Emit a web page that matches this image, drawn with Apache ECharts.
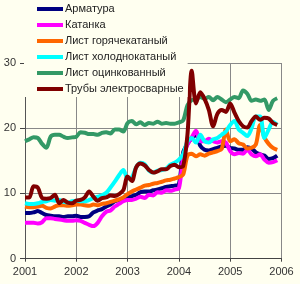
<!DOCTYPE html>
<html>
<head>
<meta charset="utf-8">
<script src="https://cdn.jsdelivr.net/npm/echarts@6/dist/echarts.min.js"></script>
<style>
html,body{margin:0;padding:0;background:#FFFFF0;}
#c{width:300px;height:284px;}
</style>
</head>
<body>
<div id="c"></div>
<script>
const startYear = 2001;
const monthsPerYear = 12;
const yearTicks = [2001, 2002, 2003, 2004, 2005, 2006];
const seriesNames = ['Арматура', 'Катанка', 'Лист горячекатаный', 'Лист холоднокатаный', 'Лист оцинкованный', 'Трубы электросварные'];
const seriesColors = ['#000080', '#FF00FF', '#FF6600', '#00FFFF', '#339966', '#800000'];

const armatura = [
  7.0, 7.0, 7.1, 7.3, 7.0, 6.7, 6.6, 6.5, 6.5, 6.4, 6.5, 6.5,
  6.6, 6.4, 6.4, 6.5, 7.1, 7.4, 7.6, 8.0, 8.3, 8.8, 9.0, 9.3,
  9.5, 9.6, 9.8, 10.2, 10.3, 10.3, 10.5, 10.6, 10.8, 11.0, 11.1, 11.2,
  11.4, 16.3, 17.6, 18.5, 19.0, 17.3, 16.7, 16.6, 16.8, 17.0, 17.2, 17.3,
  17.0, 16.9, 16.7, 16.7, 17.1, 16.9, 16.3, 16.0, 15.8, 15.3, 15.4, 15.8
];
const katanka = [
  5.5, 5.5, 5.5, 5.4, 5.6, 6.2, 6.2, 6.1, 6.0, 5.9, 5.8, 5.8,
  5.9, 5.8, 5.5, 5.2, 5.0, 5.5, 6.5, 7.2, 7.4, 8.0, 8.4, 8.8,
  9.0, 9.0, 9.2, 9.5, 9.3, 9.8, 9.7, 10.2, 10.1, 10.5, 10.4, 10.6,
  10.8, 15.5, 17.5, 18.6, 19.6, 18.0, 18.0, 18.4, 18.0, 17.8, 18.0, 17.8,
  16.5, 16.0, 16.2, 16.1, 16.7, 16.0, 15.7, 16.0, 15.2, 14.7, 14.8, 15.1
];
const listGor = [
  8.0, 7.9, 7.9, 8.0, 8.1, 7.8, 7.7, 8.0, 8.2, 8.2, 8.1, 8.2,
  8.3, 8.3, 8.2, 8.1, 8.3, 8.2, 8.4, 8.5, 8.7, 8.9, 9.1, 9.4,
  9.9, 10.3, 10.6, 10.9, 11.2, 11.3, 11.5, 11.6, 11.8, 12.0, 12.1, 12.3,
  12.5, 12.9, 15.8, 16.1, 15.7, 16.0, 15.8, 16.1, 16.3, 16.5, 16.8, 19.8,
  18.0, 18.3, 17.7, 17.5, 16.9, 17.0, 17.5, 20.5, 18.6, 17.6, 17.0, 16.7
];
const listHol = [
  8.5, 8.4, 8.4, 8.5, 8.7, 8.8, 9.0, 8.9, 9.0, 8.7, 8.6, 8.8,
  8.9, 8.8, 8.8, 9.0, 9.3, 9.5, 9.7, 10.1, 10.9, 11.8, 12.8, 13.6,
  12.3, 12.5, 14.0, 14.7, 14.5, 13.5, 13.2, 13.5, 13.6, 13.8, 14.4, 14.7,
  15.2, 16.0, 18.0, 18.5, 17.8, 19.0, 18.0, 17.8, 18.3, 18.5, 19.0, 19.5,
  20.5, 21.1, 19.8, 19.3, 18.8, 20.0, 21.8, 21.8, 18.5, 19.8, 21.0, 20.5
];
const listOcink = [
  18.0, 18.3, 18.6, 18.5, 17.6, 17.0, 18.7, 19.0, 19.0, 18.7, 18.5, 18.6,
  18.7, 19.4, 19.3, 19.1, 19.1, 19.0, 19.3, 19.4, 19.2, 19.8, 19.8, 19.5,
  20.8, 21.1, 20.6, 20.9, 20.5, 20.8, 20.7, 21.0, 20.7, 20.8, 20.7, 20.7,
  20.9, 21.2, 23.5, 24.3, 24.4, 24.8, 24.5, 24.8, 24.3, 24.8, 24.4, 24.0,
  24.4, 24.8, 24.6, 25.8, 25.3, 24.2, 24.4, 24.2, 24.4, 22.8, 24.2, 24.6
];
const truby = [
  9.4, 9.4, 11.1, 10.9, 9.3, 9.2, 9.3, 9.8, 8.5, 9.0, 8.6, 8.5,
  8.9, 9.0, 9.4, 10.3, 9.5, 8.9, 9.3, 9.4, 9.7, 9.6, 9.9, 10.5,
  12.6, 11.9, 14.0, 14.6, 14.3, 13.6, 13.2, 13.4, 13.7, 13.7, 14.2, 14.4,
  14.0, 14.2, 19.0, 28.8, 23.8, 25.5, 24.5, 22.8, 20.3, 22.2, 22.8, 22.5,
  23.8, 22.4, 21.1, 20.3, 20.1, 21.1, 21.8, 21.3, 21.6, 21.5, 20.8, 20.5
];
const allValues = [armatura, katanka, listGor, listHol, listOcink, truby];

function toPoints(vals) {
  return vals.map((v, i) => [startYear + i / monthsPerYear, v]);
}

const chart = echarts.init(document.getElementById('c'), null, {renderer: 'canvas'});
const font = 'Liberation Sans, Arial, sans-serif';
chart.setOption({
  backgroundColor: '#FFFFF0',
  animation: false,
  grid: {left: 25, right: 18.5, top: 63, bottom: 25.3, containLabel: false},
  legend: {
    show: true,
    data: seriesNames,
    orient: 'vertical',
    left: 24, top: 0,
    padding: [3, 4, 2, 13],
    itemWidth: 26, itemHeight: 4, itemGap: 4,
    icon: 'rect',
    backgroundColor: '#FFFFF0',
    z: 10,
    textStyle: {fontFamily: font, fontSize: 11, color: '#222', lineHeight: 12, padding: [0, 0, 0, -3]}
  },
  xAxis: {
    type: 'value', min: yearTicks[0], max: yearTicks[yearTicks.length - 1], interval: 1,
    axisLine: {show: true, lineStyle: {color: '#444', width: 1}},
    axisTick: {show: true, length: 3, lineStyle: {color: '#444'}},
    axisLabel: {fontFamily: font, fontSize: 11, color: '#333', margin: 8, formatter: v => String(v)},
    splitLine: {show: true, lineStyle: {color: '#888', width: 1}}
  },
  yAxis: {
    type: 'value', min: 0, max: 30, interval: 10,
    axisLine: {show: true, lineStyle: {color: '#555', width: 1}},
    axisTick: {show: true, length: 5, lineStyle: {color: '#444'}},
    axisLabel: {fontFamily: font, fontSize: 11, color: '#333', margin: 9},
    splitLine: {show: true, lineStyle: {color: '#888', width: 1}}
  },
  series: allValues.map((vals, k) => ({
    name: seriesNames[k],
    type: 'line',
    data: toPoints(vals),
    showSymbol: false,
    symbol: 'none',
    smooth: 0.3,
    lineStyle: {color: seriesColors[k], width: 4},
    itemStyle: {color: seriesColors[k]},
    z: 2 + k
  }))
});
</script>
</body>
</html>
